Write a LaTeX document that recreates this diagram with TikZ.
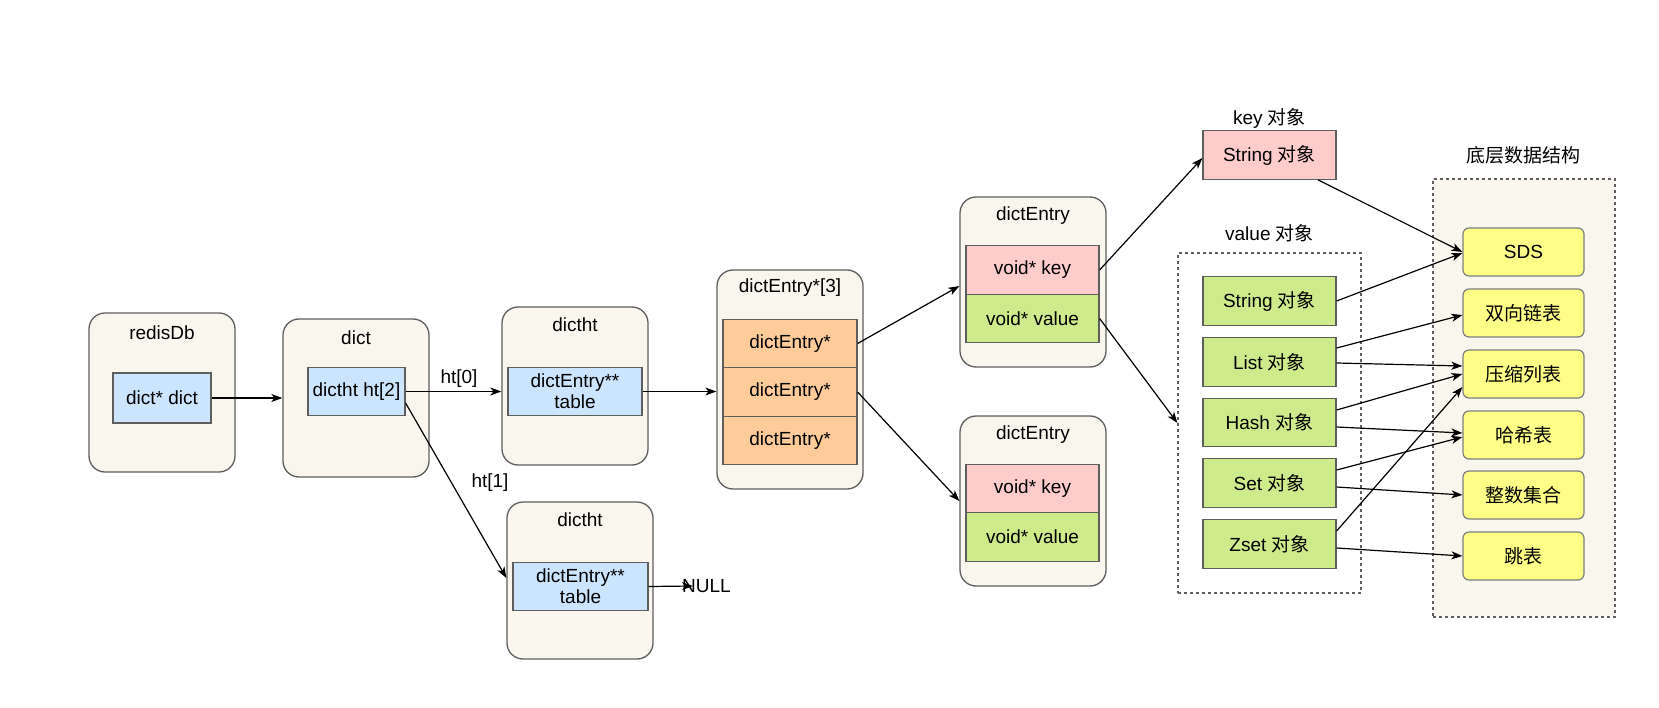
\documentclass[tikz,border=0pt]{standalone}
\usepackage{fontspec}
\setmainfont{Liberation Sans}
\newfontfamily\cjk{Noto Sans CJK SC}
\newcommand{\zh}[1]{{\cjk #1}}
\usetikzlibrary{arrows.meta}

\definecolor{beige}{HTML}{F9F7ED}
\definecolor{edge}{HTML}{5E5E5E}
\definecolor{cblue}{HTML}{CCE5FF}
\definecolor{corange}{HTML}{FFCC99}
\definecolor{cpink}{HTML}{FFCCCC}
\definecolor{cgreen}{HTML}{CDEB8B}
\definecolor{cyellow}{HTML}{FFFF88}

\tikzset{
  every node/.style={font=\fontsize{19pt}{22pt}\selectfont, text=black},
  holder/.style={draw=edge, fill=beige, line width=1.3pt, rounded corners=16pt,
                 minimum width=146pt, inner sep=0pt},
  cell/.style={draw=edge, line width=1.2pt, inner sep=0pt, align=center, minimum height=48.5pt},
  bluecell/.style={cell, fill=cblue},
  orangecell/.style={cell, fill=corange, minimum width=134pt},
  pinkcell/.style={cell, fill=cpink, minimum width=133pt},
  greencell/.style={cell, fill=cgreen, minimum width=133pt},
  dsbox/.style={draw=edge!80, fill=cyellow, line width=1.2pt, rounded corners=6pt,
                minimum width=121pt, minimum height=48pt, inner sep=0pt},
  heading/.style={inner sep=0pt},
  group/.style={draw=edge, line width=1.2pt, dash pattern=on 3pt off 3pt, inner sep=0pt},
  arr/.style={draw=black, line width=1.2pt, -{Stealth[length=11pt,width=8pt,inset=3pt]}},
}

\begin{document}
\begin{tikzpicture}[x=1pt, y=-1pt]
\useasboundingbox (0,0) rectangle (1659,708);

% ---- redisDb ----
\node[holder, minimum height=159pt] (rdb) at (162,392.5) {};
\node[heading] (rdbT) at (162,333) {redisDb};
\node[bluecell, minimum width=98pt, minimum height=50pt] (rdbP) at (162,398) {dict* dict};

% ---- dict ----
\node[holder, minimum height=158pt] (dict) at (356,398) {};
\node[heading] (dictT) at (356,338) {dict};
\node[bluecell, minimum width=97pt] (dictP) at (356.5,391.5) {dictht ht[2]};

% ---- dictht ht[0] ----
\node[holder, minimum height=158pt] (htz) at (575,386) {};
\node[heading] (htzT) at (575,325) {dictht};
\node[bluecell, minimum width=134pt, font=\fontsize{19pt}{21pt}\selectfont] (htzP) at (575,391.5) {dictEntry**\\table};

% ---- dictht ht[1] ----
\node[holder, minimum height=157pt] (hto) at (580,580.5) {};
\node[heading] (htoT) at (580,520) {dictht};
\node[bluecell, minimum width=135pt, font=\fontsize{19pt}{21pt}\selectfont] (htoP) at (580.5,586.5) {dictEntry**\\table};
\node[heading, anchor=west] (nul) at (682,586) {NULL};

% ---- bucket array ----
\node[holder, minimum height=219pt] (arr) at (790,379.5) {};
\node[heading] (arrT) at (790,288) {dictEntry*[3]};
\node[orangecell] (b1) at (790,343.5) {dictEntry*};
\node[orangecell] (b2) at (790,392) {dictEntry*};
\node[orangecell] (b3) at (790,440.5) {dictEntry*};

% ---- entries ----
\node[holder, minimum height=170pt] (de1) at (1033,282) {};
\node[heading] (de1T) at (1033,216) {dictEntry};
\node[pinkcell] (de1k) at (1032.5,270) {void* key};
\node[greencell] (de1v) at (1032.5,318.5) {void* value};

\node[holder, minimum height=170pt] (de2) at (1033,501) {};
\node[heading] (de2T) at (1033,435) {dictEntry};
\node[pinkcell] (de2k) at (1032.5,488.5) {void* key};
\node[greencell] (de2v) at (1032.5,537) {void* value};

% ---- key object ----
\node[heading] (kT) at (1269.5,118) {key \zh{对象}};
\node[pinkcell] (kstr) at (1269.5,155) {String \zh{对象}};

% ---- value objects ----
\node[group, minimum width=183pt, minimum height=340pt] (vbox) at (1269.5,423) {};
\node[heading] (vT) at (1269.5,233) {value \zh{对象}};
\node[greencell] (vstr)  at (1269.5,301)   {String \zh{对象}};
\node[greencell] (vlist) at (1269.5,362)   {List \zh{对象}};
\node[greencell] (vhash) at (1269.5,422.5) {Hash \zh{对象}};
\node[greencell] (vset)  at (1269.5,483)   {Set \zh{对象}};
\node[greencell] (vzset) at (1269.5,544)   {Zset \zh{对象}};

% ---- underlying data structures ----
\node[group, fill=beige, minimum width=182pt, minimum height=438pt] (dsg) at (1524,398) {};
\node[heading] (dsT) at (1523.5,155) {\zh{底层数据结构}};
\node[dsbox] (sds)  at (1523.5,252) {SDS};
\node[dsbox] (lnk)  at (1523.5,313) {\zh{双向链表}};
\node[dsbox] (zip)  at (1523.5,374) {\zh{压缩列表}};
\node[dsbox] (hsh)  at (1523.5,435) {\zh{哈希表}};
\node[dsbox] (ints) at (1523.5,495) {\zh{整数集合}};
\node[dsbox] (skp)  at (1523.5,556) {\zh{跳表}};

% ---- connectors ----
\draw[arr] (rdbP.east) -- (dict.west);
\draw[arr] (dictP.east) -- (dictP.east -| htz.west);
\node[heading] (ht0L) at (459,379) {ht[0]};
\draw[arr] ([yshift=-11.5pt]dictP.east) -- ([yshift=2.5pt]hto.west);
\node[heading] (ht1L) at (490,483) {ht[1]};
\draw[arr] (htoP.east) -- ([xshift=11pt]nul.west);
\draw[arr] (htzP.east) -- (htzP.east -| arr.west);

\draw[arr] (b1.east) -- ([yshift=-4pt]de1.west);
\draw[arr] (b2.east) -- (de2.west);

\draw[arr] (de1k.east) -- ([yshift=-3pt]kstr.west);
\draw[arr] (de1v.east) -- (vbox.west);

\draw[arr] ([xshift=48.5pt]kstr.south) -- (sds.west);
\draw[arr] (vstr.east) -- ([yshift=-1pt]sds.west);
\draw[arr] ([yshift=14pt]vlist.east) -- ([yshift=-2pt]lnk.west);
\draw[arr] ([yshift=-1pt]vlist.east) -- ([yshift=8pt]zip.west);
\draw[arr] ([yshift=12.5pt]vhash.east) -- (zip.west);
\draw[arr] ([yshift=-4.5pt]vhash.east) -- ([yshift=2pt]hsh.west);
\draw[arr] ([yshift=13pt]vset.east) -- ([yshift=-2pt]hsh.west);
\draw[arr] ([yshift=-4pt]vset.east) -- (ints.west);
\draw[arr] ([yshift=13pt]vzset.east) -- ([yshift=-13pt]zip.west);
\draw[arr] ([yshift=-4pt]vzset.east) -- (skp.west);
\end{tikzpicture}
\end{document}
